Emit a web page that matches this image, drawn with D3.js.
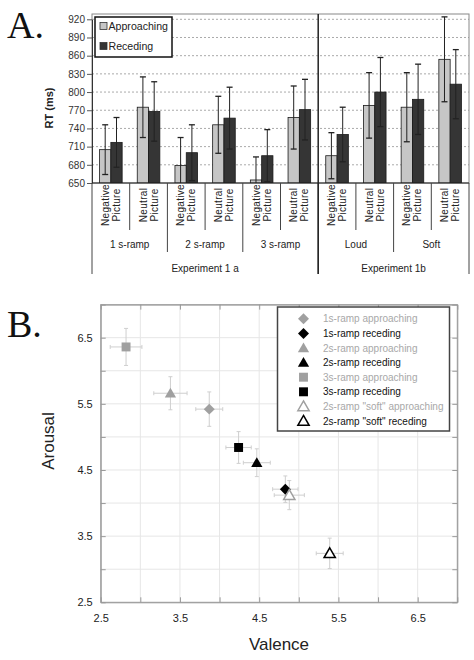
<!DOCTYPE html>
<html><head><meta charset="utf-8">
<script src="https://cdn.jsdelivr.net/npm/d3@7"></script>
<style>
html,body{margin:0;padding:0;background:#fff;}
svg text{font-family:"Liberation Sans",Arial,sans-serif;}
</style></head>
<body><svg id="c" width="474" height="660"></svg>
<script>
// ---------- Panel A data ----------
const catLine1 = ["Negative","Neutral","Negative","Neutral","Negative","Neutral","Negative","Neutral","Negative","Neutral"];
const catLine2 = ["Picture","Picture","Picture","Picture","Picture","Picture","Picture","Picture","Picture","Picture"];
const groups = ["1 s-ramp","2 s-ramp","3 s-ramp","Loud","Soft"];
const experiments = ["Experiment 1 a","Experiment 1b"];
const experimentGroupCount = [3,2];
const approachRT  = [705,775,679,746,655,758,695,778,775,854];
const approachErr = [41,50,46,47,38,52,38,54,57,70];
const recedeRT    = [717,768,700,757,695,771,730,800,788,813];
const recedeErr   = [41,49,46,51,43,50,45,57,58,57];
const rtTicks = [650,680,710,740,770,800,830,860,890,920];
const seriesA = ["Approaching","Receding"];

// ---------- Panel B data ----------
const ptNames = ["1s-ramp approaching","1s-ramp receding","2s-ramp approaching","2s-ramp receding","3s-ramp approaching","3s-ramp receding","2s-ramp \"soft\" approaching","2s-ramp \"soft\" receding"];
const valence = [3.87,4.83,3.38,4.47,2.82,4.24,4.88,5.39];
const arousal = [5.42,4.21,5.66,4.61,6.36,4.84,4.12,3.24];
const valErr  = [0.17,0.16,0.21,0.17,0.20,0.16,0.19,0.17];
const arErr   = [0.26,0.20,0.25,0.21,0.28,0.24,0.22,0.23];
const bTickLabels = [2.5,3.5,4.5,5.5,6.5];
const bGridTicks = [2.5,3,3.5,4,4.5,5,5.5,6,6.5,7];

const svg = d3.select("#c");

// ================= Panel A =================
const A = {l:92, r:469, t:14, b:183};
svg.append("text").attr("x",7).attr("y",38).text("A.")
  .style("font-family","'Liberation Serif','Times New Roman',serif").style("font-size","38px").attr("fill","#111");

const y = d3.scaleLinear().domain([650,920]).range([A.b,19.3]);
const x0 = d3.scaleBand().domain(d3.range(10)).range([A.l,A.r]);
const x1 = d3.scaleBand().domain(seriesA).range([0,x0.bandwidth()]).paddingOuter(0.668);

// grid
svg.append("g").selectAll("line").data(rtTicks.slice(1)).join("line")
  .attr("x1",A.l).attr("x2",A.r).attr("y1",d=>y(d)).attr("y2",d=>y(d))
  .attr("stroke","#aaa").attr("stroke-width",1).attr("stroke-dasharray","2,2");
// border
svg.append("rect").attr("x",A.l).attr("y",A.t).attr("width",A.r-A.l).attr("height",A.b-A.t)
  .attr("fill","none").attr("stroke","#888").attr("stroke-width",1);

// y axis
const ya = svg.append("g").attr("transform",`translate(${A.l},0)`)
  .call(d3.axisLeft(y).tickValues(rtTicks).tickSize(5).tickSizeOuter(0));
ya.select(".domain").attr("stroke","#333");
ya.selectAll("line").attr("stroke","#555");
ya.selectAll("text").style("font-size","10px").attr("fill","#333").attr("x",-7);
svg.append("text").attr("transform","translate(53,108) rotate(-90)").attr("text-anchor","middle")
  .style("font-size","11px").style("font-weight","bold").attr("fill","#222").text("RT (ms)");

const colA = {"Approaching":"#c6c6c6","Receding":"#353535"};
const barData = d3.range(10).flatMap(i=>[
  {i, s:"Approaching", v:approachRT[i], e:approachErr[i]},
  {i, s:"Receding", v:recedeRT[i], e:recedeErr[i]}]);
svg.append("clipPath").attr("id","clipA").append("rect").attr("x",A.l).attr("y",0).attr("width",A.r-A.l).attr("height",A.b);
const gb = svg.append("g").attr("clip-path","url(#clipA)");
gb.selectAll("rect.bar").data(barData).join("rect").attr("class","bar")
  .attr("x",d=>x0(d.i)+x1(d.s)).attr("width",x1.bandwidth())
  .attr("y",d=>y(d.v)).attr("height",d=>A.b-y(d.v))
  .attr("fill",d=>colA[d.s]).attr("stroke","#1a1a1a").attr("stroke-width",0.8);
const cx = d=>x0(d.i)+x1(d.s)+x1.bandwidth()/2;
gb.selectAll("line.eb").data(barData).join("line").attr("class","eb")
  .attr("x1",cx).attr("x2",cx).attr("y1",d=>y(d.v+d.e)).attr("y2",d=>y(d.v-d.e))
  .attr("stroke","#222").attr("stroke-width",1);
gb.selectAll("line.cap1").data(barData).join("line").attr("class","cap1")
  .attr("x1",d=>cx(d)-3).attr("x2",d=>cx(d)+3).attr("y1",d=>y(d.v+d.e)).attr("y2",d=>y(d.v+d.e))
  .attr("stroke","#222").attr("stroke-width",1.3);
gb.selectAll("line.cap2").data(barData).join("line").attr("class","cap2")
  .attr("x1",d=>cx(d)-3).attr("x2",d=>cx(d)+3).attr("y1",d=>y(d.v-d.e)).attr("y2",d=>y(d.v-d.e))
  .attr("stroke","#222").attr("stroke-width",1.3);

// bottom axis line
svg.append("line").attr("x1",A.l).attr("x2",A.r).attr("y1",A.b).attr("y2",A.b).attr("stroke","#222").attr("stroke-width",1.2);

// category labels
const cl = svg.append("g");
d3.range(10).forEach(i=>{
  const c = x0(i)+x0.bandwidth()/2;
  [[catLine1[i],-5.5],[catLine2[i],5.5]].forEach(([t,dx])=>{
    cl.append("text").attr("transform",`translate(${c+dx+3.5},205) rotate(-90)`).attr("text-anchor","middle")
      .style("font-size","10px").style("letter-spacing","0.3px").attr("fill","#222").text(t);
  });
});
// separators
const sep = svg.append("g").attr("stroke","#444").attr("stroke-width",1);
d3.range(1,10).forEach(i=>{
  const xx = x0(i);
  const isGroup = i%2===0;
  const isExp = i===6;
  sep.append("line").attr("x1",xx).attr("x2",xx).attr("y1",A.b).attr("y2",isExp?274:(isGroup?252:230));
});
sep.append("line").attr("x1",A.l).attr("x2",A.l).attr("y1",A.b).attr("y2",274);
sep.append("line").attr("x1",A.r).attr("x2",A.r).attr("y1",A.b).attr("y2",274);
// experiment divider inside plot
svg.append("line").attr("x1",x0(6)).attr("x2",x0(6)).attr("y1",A.t).attr("y2",274).attr("stroke","#222").attr("stroke-width",1.5);
// group labels
groups.forEach((g,k)=>{
  const c = x0(2*k)+x0.bandwidth();
  svg.append("text").attr("x",c).attr("y",248).attr("text-anchor","middle").style("font-size","10px").attr("fill","#222").text(g);
});
let start=0;
experiments.forEach((e,k)=>{
  const n = experimentGroupCount[k]*2;
  const c = (x0(start)+x0(start+n-1)+x0.bandwidth())/2;
  svg.append("text").attr("x",c).attr("y",272).attr("text-anchor","middle").style("font-size","10px").attr("fill","#222").text(e);
  start+=n;
});
// legend A
const lg = svg.append("g");
lg.append("rect").attr("x",95).attr("y",17).attr("width",77).attr("height",40).attr("fill","#fff").attr("stroke","#111").attr("stroke-width",1.5);
seriesA.forEach((s,k)=>{
  const yy = 26+k*20;
  lg.append("rect").attr("x",100).attr("y",yy-3.5).attr("width",7).attr("height",7).attr("fill",colA[s]).attr("stroke","#333").attr("stroke-width",0.8);
  lg.append("text").attr("x",108.5).attr("y",yy+4).style("font-size","10.6px").attr("fill","#222").text(s);
});

// ================= Panel B =================
const B = {l:100.7, r:457.3, t:304.6, b:602.3};
svg.append("text").attr("x",7).attr("y",337).text("B.")
  .style("font-family","'Liberation Serif','Times New Roman',serif").style("font-size","38px").attr("fill","#111");
const xb = d3.scaleLinear().domain([2.5,7]).range([B.l,B.r]);
const yb = d3.scaleLinear().domain([2.5,7]).range([B.b,B.t]);
const gg = svg.append("g");
gg.selectAll("line.gx").data(bGridTicks).join("line").attr("class","gx")
  .attr("x1",d=>xb(d)).attr("x2",d=>xb(d)).attr("y1",B.t).attr("y2",B.b).attr("stroke","#e6e6e6");
gg.selectAll("line.gy").data(bGridTicks).join("line").attr("class","gy")
  .attr("y1",d=>yb(d)).attr("y2",d=>yb(d)).attr("x1",B.l).attr("x2",B.r).attr("stroke","#e6e6e6");
svg.append("rect").attr("x",B.l).attr("y",B.t).attr("width",B.r-B.l).attr("height",B.b-B.t).attr("fill","none").attr("stroke","#aaa");

const fmt = d=>bTickLabels.includes(d)?d3.format(".1f")(d):"";
const xbAxis = svg.append("g").attr("transform",`translate(0,${B.b})`)
  .call(d3.axisBottom(xb).tickValues(bGridTicks).tickSize(-5).tickSizeOuter(0).tickFormat(fmt));
const ybAxis = svg.append("g").attr("transform",`translate(${B.l},0)`)
  .call(d3.axisLeft(yb).tickValues(bGridTicks).tickSize(-5).tickSizeOuter(0).tickFormat(fmt));
const xtAxis = svg.append("g").attr("transform",`translate(0,${B.t})`).call(d3.axisTop(xb).tickValues(bGridTicks).tickSize(-5).tickSizeOuter(0).tickFormat(""));
const yrAxis = svg.append("g").attr("transform",`translate(${B.r},0)`).call(d3.axisRight(yb).tickValues(bGridTicks).tickSize(-5).tickSizeOuter(0).tickFormat(""));
[xbAxis,ybAxis,xtAxis,yrAxis].forEach(a=>{
  a.selectAll(".tick line").attr("stroke","#999");
  a.select(".domain").attr("stroke","#999");
});
[xbAxis,ybAxis].forEach(a=>{a.selectAll("text").style("font-size","11px").attr("fill","#222");});
xbAxis.selectAll("text").attr("y",12);
ybAxis.selectAll("text").attr("x",-8);

svg.append("text").attr("x",279).attr("y",650).attr("text-anchor","middle").style("font-size","17px").attr("fill","#222").text("Valence");
svg.append("text").attr("transform","translate(54,441) rotate(-90)").attr("text-anchor","middle").style("font-size","17px").attr("fill","#222").text("Arousal");

// styles per point (index-based)
const ptShape = ["diamond","diamond","triangle","triangle","square","square","otriangle","otriangle"];
const ptColor = ["#a0a0a0","#000","#a0a0a0","#000","#a0a0a0","#000","#a0a0a0","#000"];
const pts = d3.range(8).map(i=>({i,x:valence[i],y:arousal[i],ex:valErr[i],ey:arErr[i]}));
const eg = svg.append("g").attr("stroke","#cfcfcf").attr("stroke-width",1);
pts.forEach(p=>{
  const px=xb(p.x), py=yb(p.y);
  eg.append("line").attr("x1",xb(p.x-p.ex)).attr("x2",xb(p.x+p.ex)).attr("y1",py).attr("y2",py);
  eg.append("line").attr("y1",yb(p.y-p.ey)).attr("y2",yb(p.y+p.ey)).attr("x1",px).attr("x2",px);
  [p.x-p.ex,p.x+p.ex].forEach(v=>eg.append("line").attr("x1",xb(v)).attr("x2",xb(v)).attr("y1",py-2).attr("y2",py+2));
  [p.y-p.ey,p.y+p.ey].forEach(v=>eg.append("line").attr("y1",yb(v)).attr("y2",yb(v)).attr("x1",px-2).attr("x2",px+2));
});
function drawMarker(g,shape,color,px,py){
  if(shape==="square"){
    g.append("path").attr("d",d3.symbol(d3.symbolSquare,80)()).attr("transform",`translate(${px},${py})`).attr("fill",color);
  } else if(shape==="diamond"){
    g.append("path").attr("d",d3.symbol(d3.symbolSquare,60)()).attr("transform",`translate(${px},${py}) rotate(45)`).attr("fill",color);
  } else if(shape==="triangle"){
    g.append("path").attr("d",d3.symbol(d3.symbolTriangle,55)()).attr("transform",`translate(${px},${py+1})`).attr("fill",color);
  } else {
    g.append("path").attr("d",d3.symbol(d3.symbolTriangle,55)()).attr("transform",`translate(${px},${py+1})`).attr("fill","#fff").attr("stroke",color).attr("stroke-width",1.5);
  }
}
const mg = svg.append("g");
pts.forEach(p=>drawMarker(mg,ptShape[p.i],ptColor[p.i],xb(p.x),yb(p.y)));

// legend B
const lb = svg.append("g");
lb.append("rect").attr("x",277.5).attr("y",307).attr("width",172).attr("height",124).attr("fill","#fff").attr("stroke","#444").attr("stroke-width",1.5);
ptNames.forEach((n,k)=>{
  const yy = 318.8+k*14.6;
  drawMarker(lb,ptShape[k],ptColor[k],303.5,yy);
  lb.append("text").attr("x",323).attr("y",yy+3.5).style("font-size","10px").attr("fill",ptColor[k]==="#000"?"#111":"#a8a8a8").text(n);
});
</script></body></html>
